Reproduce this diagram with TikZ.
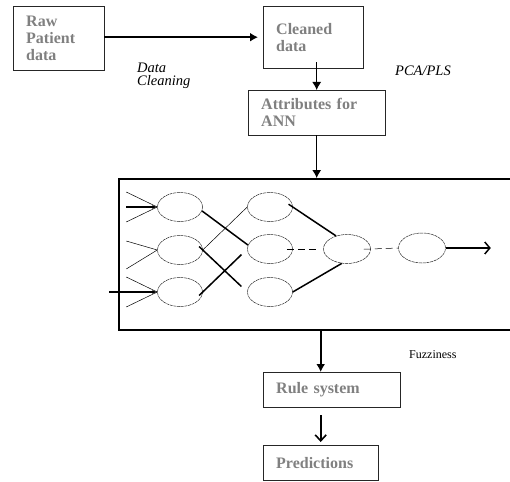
\documentclass[tikz,border=0pt]{standalone}
\usepackage{fontspec}
\setmainfont{Liberation Serif}
\usetikzlibrary{arrows.meta,shapes.geometric,positioning}

\begin{document}
\begin{tikzpicture}[x=1pt,y=-1pt]
\tikzstyle{block} = [
	shape=rectangle,
	draw=black!85, %thin border
	anchor=north west,
	inner xsep=13pt,
	inner ysep=0pt,
	align=left,
	text=black!50,
	font=\fontsize{16}{17}\selectfont\bfseries
];
\tikzstyle{neuron} = [
	shape=ellipse,
	draw=black!85,
	dash pattern=on 3pt off 0.7pt, %broken outline
	line width=0.5pt,
	inner sep=0pt,
	minimum width=45pt,
	minimum height=29pt
];
\tikzstyle{note} = [font=\fontsize{14.5}{13}\selectfont\itshape, align=left, inner sep=0pt];
\tikzstyle{wire} = [line width=0.5pt];
\tikzstyle{heavy} = [line width=1.5pt];
\tikzstyle{flow} = [line width=1.6pt, -{Latex[length=8pt,width=9pt]}];

\useasboundingbox (0,0) rectangle (510,481);

%pipeline boxes
\node[block, minimum width=91pt, minimum height=64pt, text width=65pt](raw) at (13,6) {Raw\\Patient\\data};
\node[block, minimum width=100pt, minimum height=62pt, text width=74pt](cleaned) at (263,6) {Cleaned\\data};
\node[block, minimum width=137pt, minimum height=45pt, text width=111pt](attr) at (248,90) {Attributes for\\ANN};
\node[draw, line width=2pt, anchor=north west, minimum width=402pt, minimum height=151pt, inner sep=0pt](ann) at (118,178) {};
\node[block, minimum width=137pt, minimum height=35pt, text width=111pt](rule) at (263,372) {Rule system};
\node[block, minimum width=115pt, minimum height=35pt, text width=89pt](pred) at (263,445) {Predictions};

%labels
\node[note, anchor=north west](clean) at (137,63) {Data\\Cleaning};
\node[note, anchor=west](pca) at (395,71) {PCA/PLS};
\node[inner sep=0pt, anchor=west, font=\fontsize{12}{13}\selectfont](fuzz) at (409,355) {Fuzziness};

%network
\node[neuron](in1) at (180,207) {};
\node[neuron](in2) at (180,250) {};
\node[neuron](in3) at (180,292) {};
\node[neuron](hid1) at (270,207) {};
\node[neuron](hid2) at (270,249) {};
\node[neuron](hid3) at (270,292) {};
\node[neuron, minimum width=47pt](mid) at (347,249) {};
\node[neuron, minimum width=47pt, minimum height=30pt](out) at (422,248) {};

%pipeline arrows
\draw[flow, shorten >=5pt] (raw.east |- cleaned.west) -- (cleaned.west);
\draw[flow, line width=1pt, shorten <=-6pt] (attr.north |- cleaned.south) -- (attr.north);
\draw[flow, line width=1pt] (attr.south) -- (attr.south |- ann.north);
\draw[flow] (ann.south -| pred.north) -- (pred.north |- rule.north);
\draw[line width=1.6pt, -{Straight Barb[length=6pt,width=11pt]}, shorten <=8pt, shorten >=3pt]
	(rule.south -| pred.north) -- (pred.north);

%inputs
\foreach \n in {1,3}
	\draw[wire] (in\n.west) -- ++(-31,-15) (in\n.west) -- ++(-31,15);
\draw[wire] (in2.west) -- ++(-31,-9) (in2.west) -- ++(-31,19);
\draw[heavy, {Latex[length=5pt,width=4pt]}-] (in1.west) -- ++(-31,0);
\draw[heavy, {Latex[length=5pt,width=4pt]}-] (in3.west) -- ++(-48,0);

%hidden weights
\draw[heavy] (in1.-10) -- (hid2.170);
\draw[wire] (hid1.west) -- (in2.east);
\draw[heavy, shorten <=-5pt, shorten >=8pt] (in2.east) -- (hid3.west);
\draw[heavy, shorten <=-5pt, shorten >=8pt] (in3.east) -- (hid2.west);
\draw[heavy, shorten <=-5pt] (hid1.east) -- (mid.130);
\draw[heavy] (hid3.east) -- (mid.250);
\draw[wire, dash pattern=on 7pt off 4pt, shorten <=-6pt, shorten >=6pt] (hid2.east) -- (mid.west);
\draw[wire, dash pattern=on 7pt off 4pt, shorten <=-7pt] (mid.east) -- (out.west);
\draw[heavy, -{Straight Barb[length=5pt,width=12pt]}] (out.east) -- ++(45,0);

\end{tikzpicture}
\end{document}
